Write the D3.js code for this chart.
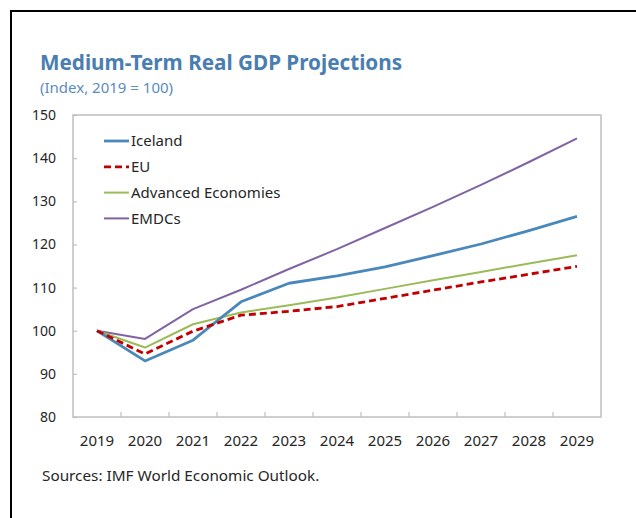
<!DOCTYPE html>
<html>
<head>
<meta charset="utf-8">
<script src="https://cdn.jsdelivr.net/npm/d3@7"></script>
<style>
  html, body { margin: 0; padding: 0; background: #fff; }
  text { font-family: "Noto Sans", "Open Sans", sans-serif; }
</style>
</head>
<body>
<svg id="chart" width="636" height="518"></svg>
<script>
const years = ["2019","2020","2021","2022","2023","2024","2025","2026","2027","2028","2029"];
const iceland  = [100, 93.0, 97.8, 106.7, 111.0, 112.7, 114.8, 117.4, 120.1, 123.2, 126.5];
const eu       = [100, 94.6, 99.9, 103.6, 104.5, 105.6, 107.5, 109.4, 111.3, 113.1, 114.9];
const advanced = [100, 96.1, 101.5, 104.2, 105.9, 107.7, 109.7, 111.7, 113.6, 115.6, 117.5];
const emdcs    = [100, 98.1, 105.0, 109.5, 114.3, 118.9, 123.8, 128.7, 133.8, 139.1, 144.6];
const yTicks = [80, 90, 100, 110, 120, 130, 140, 150];
const seriesNames = ["Iceland", "EU", "Advanced Economies", "EMDCs"];

const title = "Medium-Term Real GDP Projections";
const subtitle = "(Index, 2019 = 100)";
const source = "Sources: IMF World Economic Outlook.";

const series = [
  {name: seriesNames[0], values: iceland,  color: "#4a88bb", width: 2.8, dash: null},
  {name: seriesNames[1], values: eu,       color: "#c00000", width: 2.8, dash: "7,4"},
  {name: seriesNames[2], values: advanced, color: "#9bbb59", width: 2, dash: null},
  {name: seriesNames[3], values: emdcs,    color: "#8064a2", width: 2, dash: null}
];

const svg = d3.select("#chart");
const L = 73, R = 601, T = 115, B = 417;

// outer border (top and left)
svg.append("line").attr("x1", 10).attr("x2", 636).attr("y1", 11).attr("y2", 11)
  .attr("stroke", "#000").attr("stroke-width", 2);
svg.append("line").attr("x1", 11).attr("x2", 11).attr("y1", 10).attr("y2", 518)
  .attr("stroke", "#000").attr("stroke-width", 2);

// titles
svg.append("text").attr("x", 40).attr("y", 70).text(title)
  .attr("font-size", 20.7).attr("font-weight", "bold").attr("fill", "#4a7eb0");
svg.append("text").attr("x", 40).attr("y", 93).text(subtitle)
  .attr("font-size", 15).attr("fill", "#5b8cc0");

const x = d3.scaleBand().domain(years).range([L, R]);
const y = d3.scaleLinear().domain([80, 150]).range([B, T]);

// plot frame
svg.append("rect").attr("x", L).attr("y", T).attr("width", R - L).attr("height", B - T)
  .attr("fill", "none").attr("stroke", "#bfbfbf").attr("stroke-width", 1.5);

// y axis
const yAxis = svg.append("g").attr("transform", `translate(${L},0)`)
  .call(d3.axisLeft(y).tickValues(yTicks).tickSize(-4).tickPadding(17).tickFormat(d3.format("d")));
yAxis.select(".domain").remove();
yAxis.selectAll(".tick line").attr("stroke", "#bfbfbf").attr("stroke-width", 1.2);
yAxis.selectAll("text").attr("font-size", 14).attr("fill", "#262626");

// x axis
const xAxis = svg.append("g").attr("transform", `translate(0,${B})`)
  .call(d3.axisBottom(x).tickSize(0).tickPadding(18));
xAxis.select(".domain").remove();
xAxis.selectAll("text").attr("font-size", 15).attr("fill", "#262626");
svg.append("g").selectAll("line").data(years.slice(1)).join("line")
  .attr("x1", d => x(d)).attr("x2", d => x(d))
  .attr("y1", B).attr("y2", B - 5)
  .attr("stroke", "#bfbfbf").attr("stroke-width", 1.2);

// lines
const line = d3.line()
  .x((d, i) => x(years[i]) + x.bandwidth() / 2)
  .y(d => y(d));
const drawOrder = [3, 2, 0, 1];
drawOrder.forEach(k => {
  const s = series[k];
  svg.append("path").datum(s.values)
    .attr("d", line)
    .attr("fill", "none")
    .attr("stroke", s.color)
    .attr("stroke-width", s.width)
    .attr("stroke-dasharray", s.dash)
    .attr("stroke-linejoin", "round");
});

// legend
const lg = svg.append("g");
series.forEach((s, i) => {
  const ly = 141 + i * 25.8;
  lg.append("line").attr("x1", 104).attr("x2", 129).attr("y1", ly).attr("y2", ly)
    .attr("stroke", s.color).attr("stroke-width", s.width).attr("stroke-dasharray", s.dash);
  lg.append("text").attr("x", 131).attr("y", ly).attr("dy", "0.35em")
    .attr("font-size", 15).attr("fill", "#262626").text(s.name);
});

// source
svg.append("text").attr("x", 42).attr("y", 481).text(source)
  .attr("font-size", 15.3).attr("fill", "#262626");
</script>
</body>
</html>
